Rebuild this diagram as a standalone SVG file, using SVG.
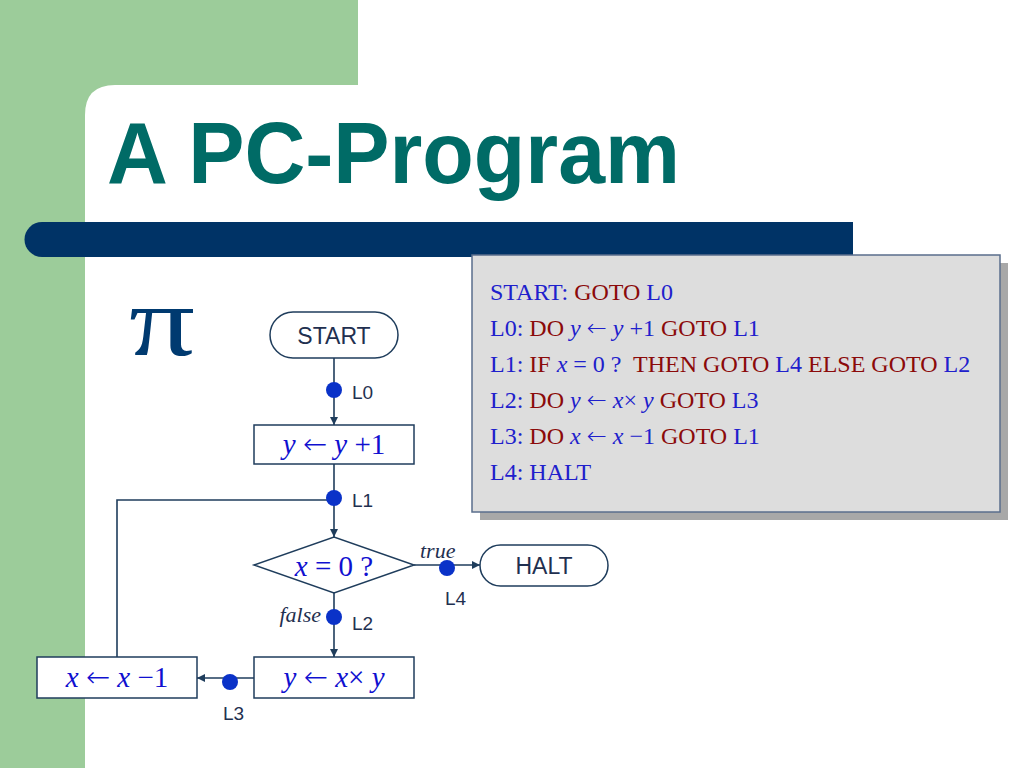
<svg xmlns="http://www.w3.org/2000/svg" width="1024" height="768" viewBox="0 0 1024 768">
<style>
.node{fill:#fff;stroke:#1F3D5C;stroke-width:1.5}
.ln{fill:none;stroke:#1F3D5C;stroke-width:1.6}
.dot{fill:#0A32C8}
.lbl{font-family:"Liberation Sans",Arial,sans-serif;font-size:19px;fill:#1F3050}
.term{font-family:"Liberation Sans",Arial,sans-serif;font-size:23px;fill:#1F3050;text-anchor:middle}
.math{font-family:"Liberation Serif","Times New Roman",serif;font-size:29px;fill:#1010D0;text-anchor:middle}
.it{font-style:italic}
.ar{font-family:"DejaVu Sans",sans-serif;font-style:normal;font-weight:200}
.cond{font-family:"Liberation Serif","Times New Roman",serif;font-size:22px;font-style:italic;fill:#1F3050}
.code{font-family:"Liberation Serif","Times New Roman",serif;font-size:24px;fill:#2020CC}
.r{fill:#8B0A0A}
</style>
<defs>
<marker id="ah" viewBox="0 0 10 10" refX="10" refY="5" markerWidth="8" markerHeight="8" markerUnits="userSpaceOnUse" orient="auto">
<path d="M0,0 L10,5 L0,10 z" fill="#1F3D5C"/>
</marker>
</defs>
<rect width="1024" height="768" fill="#fff"/>
<rect x="0" y="0" width="358" height="115" fill="#9CCC9A"/>
<rect x="0" y="0" width="85" height="768" fill="#9CCC9A"/>
<path d="M85,768 L85,115 Q85,85 115,85 L1024,85 L1024,768 Z" fill="#fff"/>
<rect x="358" y="0" width="666" height="85" fill="#fff"/>
<path d="M42,222 L853,222 L853,257 L42,257 A17.5,17.5 0 0 1 42,222 Z" fill="#003366"/>
<text x="107" y="183" font-family="Liberation Sans,Arial,sans-serif" font-weight="bold" font-size="88" fill="#006B66" textLength="573" lengthAdjust="spacingAndGlyphs">A PC-Program</text>
<text x="129" y="355" font-family="Liberation Serif,Times New Roman,serif" font-size="100" fill="#003A70" textLength="66" lengthAdjust="spacingAndGlyphs">π</text>

<g id="codebox">
<rect x="480" y="263" width="528" height="257" fill="#A8A8A8"/>
<rect x="472" y="255" width="528" height="257" fill="#DDDDDD" stroke="#5A6E8C" stroke-width="1.5"/>
<text class="code" x="490" y="300">START: <tspan class="r">GOTO</tspan> L0</text>
<text class="code" x="490" y="336">L0: <tspan class="r">DO</tspan> <tspan class="it">y</tspan> <tspan class="ar">←</tspan> <tspan class="it">y</tspan> +1 <tspan class="r">GOTO</tspan> L1</text>
<text class="code" x="490" y="372">L1: <tspan class="r">IF</tspan> <tspan class="it">x</tspan> = 0 ?&#160; <tspan class="r">THEN GOTO</tspan> L4 <tspan class="r">ELSE GOTO</tspan> L2</text>
<text class="code" x="490" y="408">L2: <tspan class="r">DO</tspan> <tspan class="it">y</tspan> <tspan class="ar">←</tspan> <tspan class="it">x</tspan>× <tspan class="it">y</tspan> <tspan class="r">GOTO</tspan> L3</text>
<text class="code" x="490" y="444">L3: <tspan class="r">DO</tspan> <tspan class="it">x</tspan> <tspan class="ar">←</tspan> <tspan class="it">x</tspan> −1 <tspan class="r">GOTO</tspan> L1</text>
<text class="code" x="490" y="480">L4: HALT</text>
</g>

<g id="connectors">
<line class="ln" x1="334" y1="358" x2="334" y2="425" marker-end="url(#ah)"/>
<line class="ln" x1="334" y1="464" x2="334" y2="537" marker-end="url(#ah)"/>
<polyline class="ln" points="117,657 117,500 334,500"/>
<line class="ln" x1="414" y1="565" x2="480" y2="565" marker-end="url(#ah)"/>
<line class="ln" x1="334" y1="593" x2="334" y2="657" marker-end="url(#ah)"/>
<line class="ln" x1="254" y1="678" x2="197" y2="678" marker-end="url(#ah)"/>
<circle class="dot" cx="334" cy="390" r="8"/>
<circle class="dot" cx="334" cy="498" r="8"/>
<circle class="dot" cx="447" cy="568" r="8"/>
<circle class="dot" cx="334" cy="617" r="8"/>
<circle class="dot" cx="230" cy="682" r="8"/>
<text class="lbl" x="352" y="399">L0</text>
<text class="lbl" x="352" y="507">L1</text>
<text class="lbl" x="445" y="605">L4</text>
<text class="lbl" x="352" y="630">L2</text>
<text class="lbl" x="223" y="720">L3</text>
<text class="cond" x="420" y="558">true</text>
<text class="cond" x="321" y="622" text-anchor="end">false</text>
</g>

<g id="start">
<rect class="node" x="270" y="312" width="128" height="46" rx="23"/>
<text class="term" x="334" y="344">START</text>
</g>
<g id="inc">
<rect class="node" x="254" y="425" width="160" height="39"/>
<text class="math" x="334" y="454"><tspan class="it">y</tspan> <tspan class="ar">←</tspan> <tspan class="it">y</tspan> +1</text>
</g>
<g id="test">
<polygon class="node" points="254,565 334,537 414,565 334,593"/>
<text class="math" x="334" y="576"><tspan class="it">x</tspan> = 0 ?</text>
</g>
<g id="halt">
<rect class="node" x="480" y="545" width="128" height="41" rx="20.5"/>
<text class="term" x="544" y="574">HALT</text>
</g>
<g id="mul">
<rect class="node" x="254" y="657" width="160" height="41"/>
<text class="math" x="334" y="687"><tspan class="it">y</tspan> <tspan class="ar">←</tspan> <tspan class="it">x</tspan>× <tspan class="it">y</tspan></text>
</g>
<g id="dec">
<rect class="node" x="37" y="657" width="160" height="41"/>
<text class="math" x="117" y="687"><tspan class="it">x</tspan> <tspan class="ar">←</tspan> <tspan class="it">x</tspan> −1</text>
</g>
</svg>
